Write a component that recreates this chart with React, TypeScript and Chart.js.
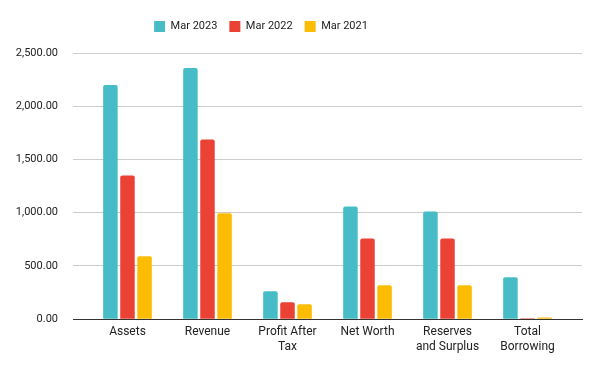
import React, { useEffect, useRef } from "react";
import { Chart, registerables } from "chart.js";

Chart.register(...registerables);

const categories: string[][] = [
  ["Assets"],
  ["Revenue"],
  ["Profit After", "Tax"],
  ["Net Worth"],
  ["Reserves", "and Surplus"],
  ["Total", "Borrowing"],
];
const seriesNames = ["Mar 2023", "Mar 2022", "Mar 2021"];
const mar2023 = [2200, 2360, 262, 1058, 1012, 393];
const mar2022 = [1350, 1688, 160, 758, 758, 10];
const mar2021 = [592, 995, 140, 318, 318, 17];
const colors = ["#46BDC6", "#EA4335", "#FBBC04"];
const yTicks = [0, 500, 1000, 1500, 2000, 2500];

const legendTweak = {
  id: "legendTweak",
  beforeInit(chart: any) {
    const lg = chart.legend;
    if (!lg) return;
    const fit = lg.fit;
    lg.fit = function () {
      fit.call(this);
      this.height += 11;
    };
  },
  afterLayout(chart: any) {
    const lg = chart.legend;
    if (!lg) return;
    lg.left -= 30;
    lg.right -= 30;
  },
};

export default function App() {
  const ref = useRef<HTMLCanvasElement>(null);
  useEffect(() => {
    document.body.style.margin = "0";
    const series = [mar2023, mar2022, mar2021];
    const chart = new Chart(ref.current!, {
      type: "bar",
      plugins: [legendTweak],
      data: {
        datasets: series.map((vals, s) => ({
          label: seriesNames[s],
          data: vals.map((v, i) => ({ x: i, y: v })),
          backgroundColor: colors[s],
          borderWidth: 0,
          borderRadius: 2,
          borderSkipped: "bottom",
          categoryPercentage: 0.64,
          barPercentage: 0.85,
        })),
      },
      options: {
        animation: false,
        responsive: false,
        layout: { padding: { left: 0, right: 18, top: 9, bottom: 11 } },
        plugins: {
          tooltip: { enabled: false },
          legend: {
            position: "top",
            labels: {
              boxWidth: 11,
              boxHeight: 11,
              padding: 12,
              color: "#222",
              font: { family: "Roboto", size: 11 },
            },
          },
        },
        scales: {
          x: {
            type: "linear",
            offset: false,
            min: -0.681,
            max: categories.length - 1 + 0.681,
            afterBuildTicks: (scale: any) => {
              scale.ticks = categories.map((_, i) => ({ value: i }));
            },
            grid: { display: false, drawTicks: false, offset: false },
            border: { display: true, color: "#333", width: 1 },
            ticks: {
              autoSkip: false,
              maxRotation: 0,
              padding: 6,
              color: "#222",
              font: { family: "Roboto", size: 12 },
              callback: (v: any) => {
                const n = Number(v);
                const i = Math.round(n);
                if (Math.abs(n - i) < 1e-6 && i >= 0 && i < categories.length) return categories[i];
                return "";
              },
            },
          },
          y: {
            min: 0,
            max: 2500,
            afterFit: (scale: any) => {
              scale.width = 73;
            },
            afterBuildTicks: (scale: any) => {
              scale.ticks = yTicks.map((v) => ({ value: v }));
            },
            grid: {
              drawTicks: false,
              color: (ctx: any) => (ctx.tick && ctx.tick.value === 0 ? "#333" : "#cccccc"),
            },
            border: { display: false },
            ticks: {
              padding: 15,
              color: "#222",
              font: { family: "Roboto", size: 11 },
              callback: (v: any) =>
                Number(v).toLocaleString("en-US", { minimumFractionDigits: 2, maximumFractionDigits: 2 }),
            },
          },
        },
      },
    });
    return () => chart.destroy();
  }, []);
  return <canvas ref={ref} width={600} height={371} />;
}
